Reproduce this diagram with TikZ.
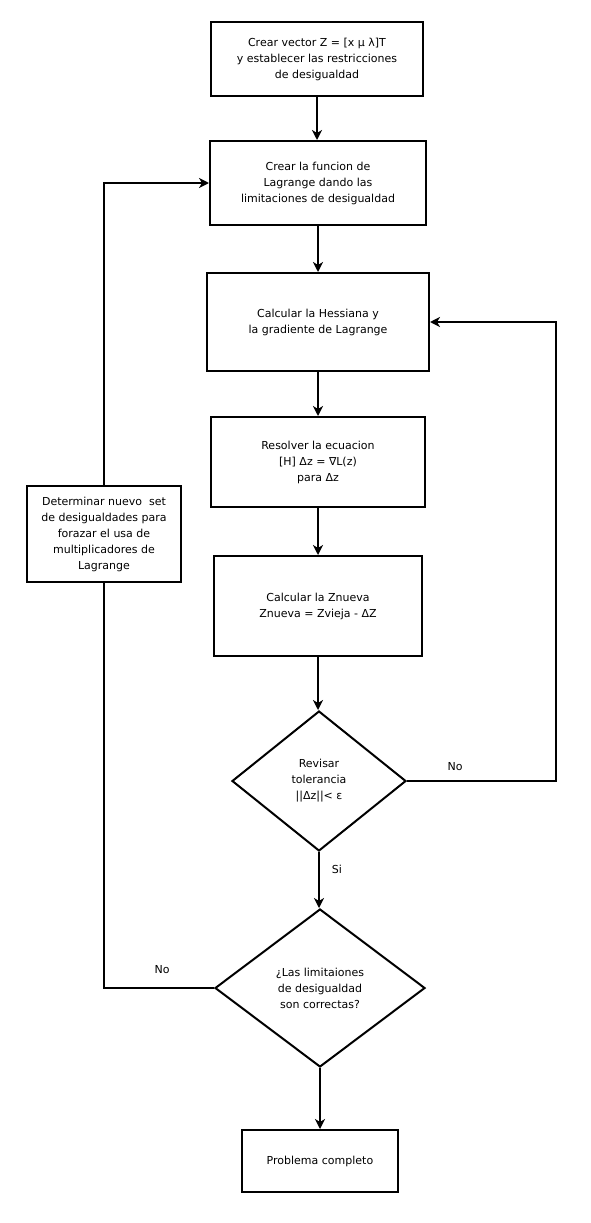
\documentclass[tikz,border=0pt]{standalone}
\usepackage{fontspec}
\setmainfont{DejaVu Sans}
\usetikzlibrary{shapes.geometric,arrows.meta}
\begin{document}
\begin{tikzpicture}[x=1pt,y=-1pt,
  box/.style={draw,line width=2pt,rectangle,align=center,inner sep=2pt,font=\fontsize{11}{16}\selectfont},
  dia/.style={draw,line width=2pt,diamond,align=center,inner sep=0pt,font=\fontsize{11}{16}\selectfont},
  arr/.style={line width=2pt,-{Stealth[length=10pt,width=10pt,inset=3pt]}},
  ln/.style={line width=2pt},
  lbl/.style={font=\fontsize{11}{16}\selectfont}]
\useasboundingbox (0,0) rectangle (591,1223);
\fill[white] (0,0) rectangle (591,1223);
\node[box,minimum width=212pt,minimum height=74pt] (b1) at (317,59) {Crear vector Z = [x μ λ]T\\y establecer las restricciones\\de desigualdad};
\node[box,minimum width=216pt,minimum height=84pt] (b2) at (318,183) {Crear la funcion de\\Lagrange dando las\\limitaciones de desigualdad};
\node[box,minimum width=222pt,minimum height=98pt] (b3) at (318,322) {Calcular la Hessiana y\\la gradiente de Lagrange};
\node[box,minimum width=214pt,minimum height=90pt] (b4) at (318,462) {Resolver la ecuacion\\{[H]} Δz = ∇L(z)\\para Δz};
\node[box,minimum width=208pt,minimum height=100pt] (b5) at (318,606) {Calcular la Znueva\\Znueva = Zvieja - ΔZ};
\node[dia,minimum width=174pt,minimum height=140pt] (d1) at (319,781) {Revisar\\tolerancia\\||Δz||< ε};
\node[dia,minimum width=210pt,minimum height=158pt] (d2) at (320,988) {¿Las limitaiones\\de desigualdad\\son correctas?};
\node[box,minimum width=156pt,minimum height=62pt] (b6) at (320,1161) {Problema completo};
\node[box,minimum width=154pt,minimum height=96pt] (lb) at (104,534) {Determinar nuevo\ \ set\\de desigualdades para\\forazar el usa de\\multiplicadores de\\Lagrange};
\coordinate (rc) at (556,0);
\draw[arr] (b1.south) -- (b1.south |- b2.north);
\draw[arr] (b2.south) -- (b2.south |- b3.north);
\draw[arr] (b3.south) -- (b3.south |- b4.north);
\draw[arr] (b4.south) -- (b4.south |- b5.north);
\draw[arr] (b5.south) -- (b5.south |- d1.north);
\draw[arr] (d1.south) -- (d1.south |- d2.north);
\draw[arr] (d2.south) -- (d2.south |- b6.north);
\draw[arr] (d1.east) -- (d1.east -| rc) |- (b3.east);
\draw[ln] (d2.west) -| (lb.south);
\draw[arr] (lb.north) |- (b2.west);
\node[lbl] (no1) at (455,767) {No};
\node[lbl] (no2) at (162,970) {No};
\node[lbl] (si) at (337,869) {Si};
\end{tikzpicture}
\end{document}
